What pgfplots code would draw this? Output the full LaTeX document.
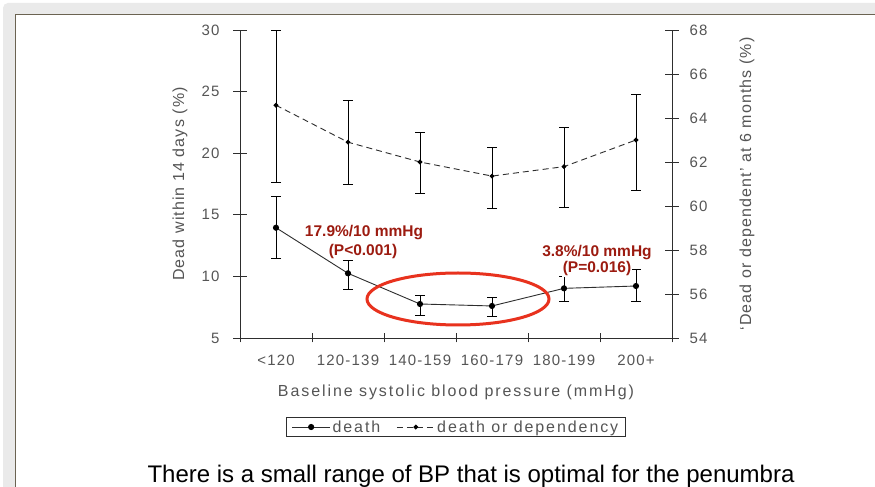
\documentclass[border=0pt]{standalone}
\usepackage{fontspec}
\setmainfont{Liberation Sans}
\newfontfamily\tickfont[LetterSpace=8]{Liberation Sans}
\newfontfamily\labfont[LetterSpace=7]{Liberation Sans}
\newfontfamily\wfont[LetterSpace=12]{Liberation Sans}
\usepackage{pgfplots}
\pgfplotsset{compat=1.18}
\definecolor{tgray}{HTML}{555555}
\definecolor{lgray}{HTML}{2E2E2E}
\definecolor{annred}{HTML}{9C1B10}
\definecolor{ellred}{HTML}{E8321E}
\definecolor{frameline}{HTML}{6B6352}
\definecolor{shadow}{HTML}{EAEAEA}
\tikzset{tickmark/.style={lgray, line width=0.9pt}}
\pgfplotsset{
  base/.style={
    scale only axis, width=432pt, height=308pt,
    at={(240pt,149pt)}, anchor=south west,
    xmin=0, xmax=6, clip=false,
    separate axis lines,
    tick style={draw=none},
    tick align=outside,
    ticklabel style={font=\fontsize{15}{18}\tickfont, text=tgray},
    /pgf/number format/assume math mode=true,
    label style={text=tgray},
  },
  deathstyle/.style={lgray, line width=0.9pt, mark=*, mark size=2.6pt, mark options={solid, fill=black, draw=black}},
  ddstyle/.style={lgray, line width=0.9pt, dash pattern=on 6pt off 4pt, mark=*, mark size=1.9pt, mark options={solid, fill=black, draw=black}},
  ebars/.style={error bars/.cd, y dir=both, y explicit,
    error bar style={black, line width=0.8pt, solid},
    error mark options={black, line width=0.8pt, mark size=5pt, solid, rotate=90}},
}
\begin{document}
\begin{tikzpicture}[x=1pt,y=1pt]
\useasboundingbox (0,0) rectangle (875,487);
\clip (0,0) rectangle (875,487);
\fill[white] (0,0) rectangle (875,487);
\fill[shadow, rounded corners=5pt] (3,-20) rectangle (900,484);
\fill[white] (15,-20) rectangle (900,472);
\draw[frameline, line width=1pt] (15,-20) -- (15,472) -- (900,472);

% x axis
\begin{axis}[base, ymin=5, ymax=30,
  x axis line style={draw=none}, y axis line style={draw=none},
  ytick=\empty,
  xtick={0,1,...,6}, xtick pos=left, x tick label as interval,
  xticklabels={{<120},{120-139},{140-159},{160-179},{180-199},{200+}},
  major tick length=4pt,
  xticklabel style={yshift=-9pt},
  xlabel={Baseline systolic blood pressure (mmHg)},
  xlabel style={font=\fontsize{16}{19}\wfont, at={(axis description cs:0.5,-0.19)}, anchor=base},
]
\draw[tickmark] (rel axis cs:0,0) -- (rel axis cs:1,0);
\pgfplotsinvokeforeach{0,1,2,3,4,5,6}{
  \draw[tickmark] ([yshift=-4.5pt]axis cs:#1,5) -- ([yshift=4.5pt]axis cs:#1,5);
}
\end{axis}

% left axis: death
\begin{axis}[base, ymin=5, ymax=30,
  x axis line style={draw=none}, y axis line style={lgray, line width=0.9pt},
  xtick=\empty,
  ytick={5,10,...,30}, ytick pos=left, major tick length=7pt,
  yticklabel style={xshift=-10pt},
  ylabel={Dead within 14 days (\%)},
  ylabel style={font=\fontsize{16}{19}\labfont, at={(axis description cs:-0.1389,0.5)}, anchor=center},
]
\pgfplotsinvokeforeach{5,10,15,20,25,30}{
  \draw[tickmark] ([xshift=-7pt]axis cs:0,#1) -- ([xshift=7pt]axis cs:0,#1);
}
\addplot[deathstyle, ebars]
coordinates {
(0.5,13.95) += (0,2.52) -= (0,2.50)
(1.5,10.25) += (0,1.08) -= (0,1.30)
(2.5,7.76) += (0,0.73) -= (0,0.89)
(3.5,7.60) += (0,0.67) -= (0,0.87)
(4.5,9.03) += (0,0.95) -= (0,1.03)
(5.5,9.22) += (0,1.35) -= (0,1.22)
};
\end{axis}

% right axis: death or dependency
\begin{axis}[base, ymin=54, ymax=68,
  x axis line style={draw=none}, y axis line style={draw=none},
  xtick=\empty,
  ytick={54,56,...,68}, ytick pos=right, major tick length=7pt,
  yticklabel style={xshift=7pt},
  ylabel={‘Dead or dependent’ at 6 months (\%)},
  ylabel style={font=\fontsize{16}{19}\labfont, at={(axis description cs:1.1736,0.5)}, anchor=center, rotate=0},
  legend image code/.code={\draw[mark repeat=2,mark phase=2,#1] plot coordinates {(0pt,0pt) (19pt,0pt) (38pt,0pt)};},
  legend style={at={(0.5,-0.289)}, anchor=center, draw=lgray, line width=1.2pt, fill=white,
    font=\fontsize{16}{19}\wfont, text=tgray, inner xsep=5pt, inner ysep=1pt,
    /tikz/every even column/.append style={column sep=14pt}},
  legend columns=2,
]
\pgfplotsinvokeforeach{54,56,58,60,62,64,66,68}{
  \draw[tickmark] ([xshift=-7pt]axis cs:6,#1) -- ([xshift=7pt]axis cs:6,#1);
}
\addlegendimage{deathstyle}
\addlegendentry{death}
\addplot[ddstyle, ebars]
coordinates {
(0.5,64.58) += (0,3.42) -= (0,3.49)
(1.5,62.90) += (0,1.89) -= (0,1.91)
(2.5,62.00) += (0,1.36) -= (0,1.45)
(3.5,61.36) += (0,1.32) -= (0,1.45)
(4.5,61.79) += (0,1.77) -= (0,1.85)
(5.5,63.00) += (0,2.09) -= (0,2.30)
};
\addlegendentry{death or dependency}
\end{axis}

% annotations
\draw[ellred, line width=3pt] (458,188) ellipse [x radius=91, y radius=26];
\node[font=\fontsize{15.5}{18}\selectfont\bfseries, text=annred, anchor=base, inner sep=0.5pt] at (364,250) {17.9\%/10 mmHg};
\node[font=\fontsize{15.5}{18}\selectfont\bfseries, text=annred, anchor=base, inner sep=0.5pt] at (363,231.5) {(P<0.001)};
\node[font=\fontsize{15.5}{18}\selectfont\bfseries, text=annred, anchor=base, fill=white, inner sep=1pt] at (597,230) {3.8\%/10 mmHg};
\node[font=\fontsize{15.5}{18}\selectfont\bfseries, text=annred, anchor=base, fill=white, inner sep=1pt] at (597,214.5) {(P=0.016)};

\node[anchor=base, font=\fontsize{24}{28}\selectfont, text=black] at (471,5) {There is a small range of BP that is optimal for the penumbra};
\end{tikzpicture}
\end{document}
